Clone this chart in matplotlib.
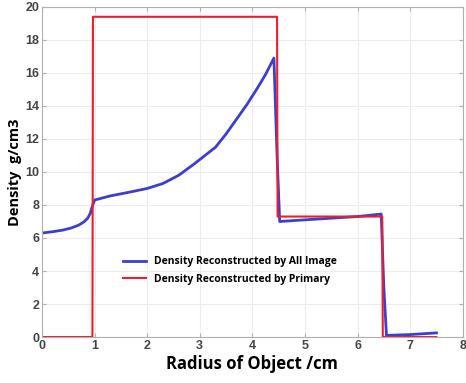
import matplotlib.pyplot as plt

# blue: density reconstructed from all image data
r_all = [0.0, 0.2, 0.4, 0.55, 0.7, 0.8, 0.87, 0.92, 0.96, 1.0, 1.3, 1.7, 2.0, 2.3, 2.6, 2.9, 3.3, 3.5, 3.7, 3.9, 4.1, 4.25, 4.41, 4.47, 4.52, 5.0, 5.5, 6.0, 6.45, 6.5, 6.55, 7.0, 7.5]
d_all = [6.3, 6.38, 6.48, 6.6, 6.78, 6.98, 7.2, 7.5, 7.95, 8.3, 8.55, 8.8, 9.0, 9.3, 9.8, 10.5, 11.5, 12.3, 13.2, 14.1, 15.1, 15.9, 16.9, 11.0, 7.0, 7.1, 7.2, 7.3, 7.45, 3.0, 0.1, 0.15, 0.25]

# red: density reconstructed from primary
r_pri = [0.0, 0.96, 0.97, 4.47, 4.48, 6.47, 6.48, 7.5]
d_pri = [0.0, 0.0, 19.4, 19.4, 7.3, 7.3, 0.0, 0.0]

plt.rcParams['font.family'] = ['Liberation Sans', 'DejaVu Sans']
fig = plt.figure(figsize=(4.66, 3.83), dpi=100)
ax = fig.add_axes([0.09, 0.12, 0.903, 0.862])

ax.plot(r_all, d_all, color='#3a3fcf', lw=2.0, label='Density Reconstructed by All Image')
ax.plot(r_pri, d_pri, color='#ee1c2e', lw=1.5, label='Density Reconstructed by Primary')

ax.set_xlim(0, 8)
ax.set_ylim(0, 20)
ax.set_xticks(range(0, 9))
ax.set_yticks(range(0, 21, 2))
ax.grid(True, color='#ececec', lw=0.8)
for s in ax.spines.values():
    s.set_color('#b0b0b0')
ax.tick_params(direction='in', top=True, right=True, color='#b0b0b0', length=3,
               labelsize=9, labelcolor='#444444', pad=2)
for lab in ax.get_xticklabels() + ax.get_yticklabels():
    lab.set_fontweight('bold')

ax.set_xlabel('Radius of Object /cm', fontsize=12, fontweight='bold', family='Open Sans', labelpad=2)
ax.set_ylabel('Density  g/cm3', fontsize=10.5, fontweight='bold', family='Open Sans', labelpad=2)

leg = ax.legend(loc='lower left', bbox_to_anchor=(0.17, 0.13), frameon=False,
                prop={'family': 'Open Sans', 'weight': 'bold', 'size': 7.5},
                handlelength=2.2, labelspacing=0.6)

fig.savefig('out.png', dpi=100)
